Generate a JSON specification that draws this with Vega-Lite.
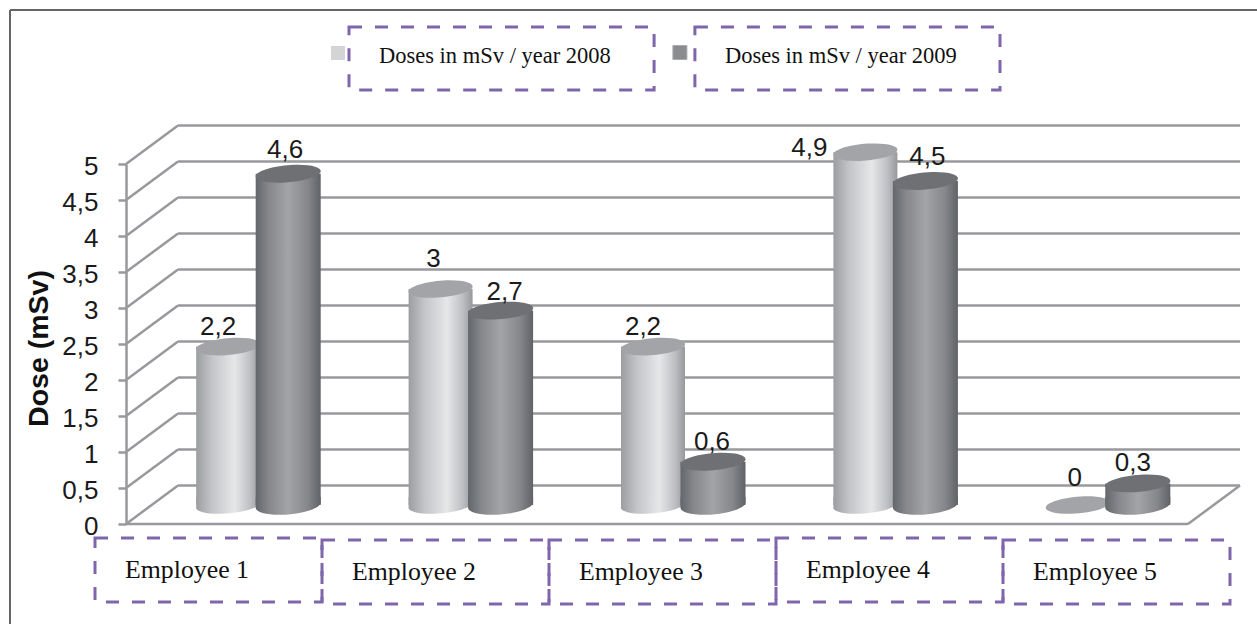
{
"$schema":"https://vega.github.io/schema/vega-lite/v6.json",
"autosize":"none",
"padding":{"left":126,"top":164,"right":69,"bottom":100},
"width":1062,"height":360,
"background":"white",
"config":{"view":{"stroke":null},"font":"Liberation Sans"},
"datasets":{
"doses":[
{"employee":"Employee 1","year":"2008","dose":2.2},
{"employee":"Employee 1","year":"2009","dose":4.6},
{"employee":"Employee 2","year":"2008","dose":3},
{"employee":"Employee 2","year":"2009","dose":2.7},
{"employee":"Employee 3","year":"2008","dose":2.2},
{"employee":"Employee 3","year":"2009","dose":0.6},
{"employee":"Employee 4","year":"2008","dose":4.9},
{"employee":"Employee 4","year":"2009","dose":4.5},
{"employee":"Employee 5","year":"2008","dose":0},
{"employee":"Employee 5","year":"2009","dose":0.3}],
"levels":[{"level":0},{"level":0.5},{"level":1},{"level":1.5},{"level":2},{"level":2.5},{"level":3},{"level":3.5},{"level":4},{"level":4.5},{"level":5}],
"categories":[{"employee":"Employee 1"},{"employee":"Employee 2"},{"employee":"Employee 3"},{"employee":"Employee 4"},{"employee":"Employee 5"}],
"series":[{"series":"Doses in mSv / year 2008"},{"series":"Doses in mSv / year 2009"}]
},
"data":{"name":"doses"},
"layer":[
{"data":{"name":"levels"},
 "mark":{"type":"rule","color":"#98999d","strokeWidth":2.5,"xOffset":52,"x2Offset":52,"yOffset":-38.5},
 "encoding":{
  "x":{"datum":0,"type":"quantitative","scale":{"domain":[0,1],"nice":false},"axis":null},
  "x2":{"datum":1},
  "y":{"field":"level","type":"quantitative","scale":{"domain":[0,5],"nice":false,"zero":false},
   "axis":{"values":[0,0.5,1,1.5,2,2.5,3,3.5,4,4.5,5],"format":"~g","grid":false,"domainColor":"#98999d","domainWidth":2.5,"tickColor":"#98999d","tickWidth":2.5,"tickSize":8,
    "labelFont":"Liberation Sans","labelFontSize":26,"labelColor":"#1a1a1a","labelPadding":20,"labelOffset":2,"labelOverlap":false,"labelFlush":false,"labelBaseline":"middle","labelExpr":"replace(datum.label,'.',',')",
    "title":"Dose (mSv)","titleFont":"Liberation Sans","titleFontSize":28.5,"titleFontWeight":"bold","titleColor":"#111111","titleX":-73,"titleY":184,"titleAnchor":"middle"}}
 }},
{"data":{"name":"levels"},
 "mark":{"type":"rule","color":"#98999d","strokeWidth":2.5,"x2Offset":52,"y2Offset":-38.5},
 "encoding":{
  "x":{"datum":0,"type":"quantitative","scale":{"domain":[0,1],"nice":false},"axis":null},
  "x2":{"datum":0},
  "y":{"field":"level","type":"quantitative","axis":null},
  "y2":{"field":"level"}
 }},
{"data":{"values":[{}]},
 "mark":{"type":"rule","color":"#98999d","strokeWidth":2.5,"x2Offset":52,"y2Offset":-38.5},
 "encoding":{
  "x":{"datum":1,"type":"quantitative","scale":{"domain":[0,1],"nice":false},"axis":null},
  "x2":{"datum":1},
  "y":{"datum":0,"type":"quantitative","axis":null},
  "y2":{"datum":0}
 }},
{"data":{"values":[{}]},
 "mark":{"type":"rule","color":"#98999d","strokeWidth":2.5},
 "encoding":{
  "x":{"datum":0,"type":"quantitative","scale":{"domain":[0,1],"nice":false},"axis":null},
  "x2":{"datum":1},
  "y":{"datum":0,"type":"quantitative","axis":null}
 }},
{"data":{"values":[{}]},
 "mark":{"type":"rule","color":"#666666","strokeWidth":2,"xOffset":-116,"x2Offset":69,"yOffset":-154},
 "encoding":{
  "x":{"datum":0,"type":"quantitative","scale":{"domain":[0,1],"nice":false},"axis":null},
  "x2":{"datum":1},
  "y":{"datum":5,"type":"quantitative","axis":null}
 }},
{"data":{"values":[{}]},
 "mark":{"type":"rule","color":"#666666","strokeWidth":2,"xOffset":-116,"yOffset":-154,"y2Offset":100},
 "encoding":{
  "x":{"datum":0,"type":"quantitative","scale":{"domain":[0,1],"nice":false},"axis":null},
  "y":{"datum":5,"type":"quantitative","axis":null},
  "y2":{"datum":0}
 }},
{"transform":[{"filter":"datum.year=='2008'"}],
 "mark":{"type":"bar","width":64,"yOffset":-19,"y2Offset":-19,"color":{"gradient":"linear","x1":0,"x2":1,"y1":0,"y2":0,"stops":[{"offset":0,"color":"#9b9da0"},{"offset":0.25,"color":"#c4c5c8"},{"offset":0.6,"color":"#e6e7e9"},{"offset":0.85,"color":"#bcbec1"},{"offset":1,"color":"#96989b"}]}},
 "encoding":{
  "x":{"field":"employee","type":"nominal","scale":{"type":"band","range":[26,1088],"paddingInner":0.435,"paddingOuter":0.2175},"axis":null},
  "xOffset":{"field":"year","type":"nominal","scale":{"type":"band","domain":["2008","2009"],"paddingInner":0,"paddingOuter":0}},
  "y":{"field":"dose","type":"quantitative","axis":null}
 }},
{"transform":[{"filter":"datum.year=='2008'&&datum.dose>0"}],
 "mark":{"type":"point","filled":true,"opacity":1,"size":4096,"yOffset":-19,"shape":"M-1,-0.25 L-1,0.06 A1,0.26 -5 0 0 1,-0.06 L1,-0.25 Z","color":{"gradient":"linear","x1":0,"x2":1,"y1":0,"y2":0,"stops":[{"offset":0,"color":"#9b9da0"},{"offset":0.25,"color":"#c4c5c8"},{"offset":0.6,"color":"#e6e7e9"},{"offset":0.85,"color":"#bcbec1"},{"offset":1,"color":"#96989b"}]}},
 "encoding":{
  "x":{"field":"employee","type":"nominal","scale":{"type":"band","domain":["Employee 1","Employee 2","Employee 3","Employee 4","Employee 5"],"range":[26,1088],"paddingInner":0.435,"paddingOuter":0.2175},"axis":null},
  "xOffset":{"field":"year","type":"nominal","scale":{"type":"band","domain":["2008","2009"],"paddingInner":0,"paddingOuter":0}},
  "y":{"datum":0,"type":"quantitative","axis":null}
 }},
{"transform":[{"filter":"datum.year=='2008'"}],
 "mark":{"type":"point","filled":true,"opacity":1,"size":4096,"yOffset":-19,"shape":"M-1,0.06 A1,0.26 -5 0 1 1,-0.06 A1,0.26 -5 0 1 -1,0.06 Z","color":"#a2a4a7"},
 "encoding":{
  "x":{"field":"employee","type":"nominal","scale":{"type":"band","range":[26,1088],"paddingInner":0.435,"paddingOuter":0.2175},"axis":null},
  "xOffset":{"field":"year","type":"nominal","scale":{"type":"band","domain":["2008","2009"],"paddingInner":0,"paddingOuter":0}},
  "y":{"field":"dose","type":"quantitative","axis":null}
 }},
{"transform":[{"filter":"datum.year=='2009'"}],
 "mark":{"type":"bar","width":65,"yOffset":-19,"y2Offset":-19,"color":{"gradient":"linear","x1":0,"x2":1,"y1":0,"y2":0,"stops":[{"offset":0,"color":"#63666a"},{"offset":0.2,"color":"#85878b"},{"offset":0.5,"color":"#a2a4a8"},{"offset":0.8,"color":"#85878b"},{"offset":1,"color":"#5f6266"}]}},
 "encoding":{
  "x":{"field":"employee","type":"nominal","scale":{"type":"band","range":[26,1088],"paddingInner":0.435,"paddingOuter":0.2175},"axis":null},
  "xOffset":{"field":"year","type":"nominal","scale":{"type":"band","domain":["2008","2009"],"paddingInner":0,"paddingOuter":0}},
  "y":{"field":"dose","type":"quantitative","axis":null}
 }},
{"transform":[{"filter":"datum.year=='2009'"}],
 "mark":{"type":"point","filled":true,"opacity":1,"size":4225,"yOffset":-19,"shape":"M-1,-0.25 L-1,0.06 A1,0.29 -5 0 0 1,-0.06 L1,-0.25 Z","color":{"gradient":"linear","x1":0,"x2":1,"y1":0,"y2":0,"stops":[{"offset":0,"color":"#63666a"},{"offset":0.2,"color":"#85878b"},{"offset":0.5,"color":"#a2a4a8"},{"offset":0.8,"color":"#85878b"},{"offset":1,"color":"#5f6266"}]}},
 "encoding":{
  "x":{"field":"employee","type":"nominal","scale":{"type":"band","range":[26,1088],"paddingInner":0.435,"paddingOuter":0.2175},"axis":null},
  "xOffset":{"field":"year","type":"nominal","scale":{"type":"band","domain":["2008","2009"],"paddingInner":0,"paddingOuter":0}},
  "y":{"datum":0,"type":"quantitative","axis":null}
 }},
{"transform":[{"filter":"datum.year=='2009'"}],
 "mark":{"type":"point","filled":true,"opacity":1,"size":4225,"yOffset":-19,"shape":"M-1,0.06 A1,0.26 -5 0 1 1,-0.06 A1,0.26 -5 0 1 -1,0.06 Z","color":"#6e7074"},
 "encoding":{
  "x":{"field":"employee","type":"nominal","scale":{"type":"band","range":[26,1088],"paddingInner":0.435,"paddingOuter":0.2175},"axis":null},
  "xOffset":{"field":"year","type":"nominal","scale":{"type":"band","domain":["2008","2009"],"paddingInner":0,"paddingOuter":0}},
  "y":{"field":"dose","type":"quantitative","axis":null}
 }},
{"transform":[{"calculate":"replace(toString(datum.dose),'.',',')","as":"label"}],
 "mark":{"type":"text","font":"Liberation Sans","fontSize":26,"color":"#1a1a1a","baseline":"middle","align":"center","yOffset":-19,
  "dx":{"expr":"{'2,2':-10,'4,6':-3,'3':-7,'2,7':4,'0,6':-1,'4,9':-56,'4,5':2,'0':-3,'0,3':-5}[datum.label]"},
  "dy":{"expr":"{'2,2':-20,'4,6':-24,'3':-30,'2,7':-19,'0,6':-20,'4,9':-4,'4,5':-24,'0':-27,'0,3':-20}[datum.label]"}},
 "encoding":{
  "x":{"field":"employee","type":"nominal","scale":{"type":"band","range":[26,1088],"paddingInner":0.435,"paddingOuter":0.2175},"axis":null},
  "xOffset":{"field":"year","type":"nominal","scale":{"type":"band","domain":["2008","2009"],"paddingInner":0,"paddingOuter":0}},
  "y":{"field":"dose","type":"quantitative","axis":null},
  "text":{"field":"label"}
 }},
{"data":{"name":"categories"},"transform":[{"filter":"datum.employee=='Employee 1'||datum.employee=='Employee 4'"}],
 "mark":{"type":"rect","fill":null,"stroke":"#7f66ac","strokeWidth":3,"strokeDash":[13,13],"yOffset":14,"y2Offset":78},
 "encoding":{
  "x":{"field":"employee","type":"nominal","scale":{"type":"band","domain":["Employee 1","Employee 2","Employee 3","Employee 4","Employee 5"],"range":[-31,1104],"paddingInner":0,"paddingOuter":0},"axis":null},
  "y":{"datum":0,"type":"quantitative","axis":null},
  "y2":{"datum":0}
 }},
{"data":{"name":"categories"},"transform":[{"filter":"datum.employee!='Employee 1'&&datum.employee!='Employee 4'"}],
 "mark":{"type":"rect","fill":null,"stroke":"#7f66ac","strokeWidth":3,"strokeDash":[13,13],"yOffset":16,"y2Offset":80},
 "encoding":{
  "x":{"field":"employee","type":"nominal","scale":{"type":"band","domain":["Employee 1","Employee 2","Employee 3","Employee 4","Employee 5"],"range":[-31,1104],"paddingInner":0,"paddingOuter":0},"axis":null},
  "y":{"datum":0,"type":"quantitative","axis":null},
  "y2":{"datum":0}
 }},
{"data":{"name":"categories"},
 "mark":{"type":"text","font":"Liberation Serif","fontSize":25.8,"color":"#111111","align":"left","baseline":"middle","xOffset":30,
  "yOffset":{"expr":"datum.employee=='Employee 1'||datum.employee=='Employee 4'?46:48"}},
 "encoding":{
  "x":{"field":"employee","type":"nominal","bandPosition":0,"scale":{"type":"band","domain":["Employee 1","Employee 2","Employee 3","Employee 4","Employee 5"],"range":[-31,1104],"paddingInner":0,"paddingOuter":0},"axis":null},
  "y":{"datum":0,"type":"quantitative","axis":null},
  "text":{"field":"employee"}
 }},
{"data":{"name":"series"},
 "mark":{"type":"rect","fill":"white","stroke":"#7f66ac","strokeWidth":3,"strokeDash":[13,13],"yOffset":-137,"y2Offset":-74},
 "encoding":{
  "x":{"field":"series","type":"nominal","scale":{"type":"band","range":[223,874],"paddingInner":0.118,"paddingOuter":0},"axis":null},
  "y":{"datum":5,"type":"quantitative","axis":null},
  "y2":{"datum":5}
 }},
{"data":{"name":"series"},
 "mark":{"type":"text","font":"Liberation Serif","fontSize":22.5,"color":"#111111","align":"left","baseline":"middle","xOffset":30,"yOffset":-108},
 "encoding":{
  "x":{"field":"series","type":"nominal","bandPosition":0,"scale":{"type":"band","range":[223,874],"paddingInner":0.118,"paddingOuter":0},"axis":null},
  "y":{"datum":5,"type":"quantitative","axis":null},
  "text":{"field":"series"}
 }},
{"data":{"name":"series"},"transform":[{"filter":"indexof(datum.series,'2008')>=0"}],
 "mark":{"type":"point","shape":"square","filled":true,"opacity":1,"size":196,"color":"#d3d4d6","xOffset":-11,"yOffset":-111},
 "encoding":{
  "x":{"field":"series","type":"nominal","bandPosition":0,"scale":{"type":"band","domain":["Doses in mSv / year 2008","Doses in mSv / year 2009"],"range":[223,874],"paddingInner":0.118,"paddingOuter":0},"axis":null},
  "y":{"datum":5,"type":"quantitative","axis":null}
 }},
{"data":{"name":"series"},"transform":[{"filter":"indexof(datum.series,'2009')>=0"}],
 "mark":{"type":"point","shape":"square","filled":true,"opacity":1,"size":196,"color":"#8b8c90","stroke":"#a9aaad","strokeWidth":1,"xOffset":-15,"yOffset":-111.5},
 "encoding":{
  "x":{"field":"series","type":"nominal","bandPosition":0,"scale":{"type":"band","domain":["Doses in mSv / year 2008","Doses in mSv / year 2009"],"range":[223,874],"paddingInner":0.118,"paddingOuter":0},"axis":null},
  "y":{"datum":5,"type":"quantitative","axis":null}
 }}
],
"resolve":{"scale":{"x":"independent","xOffset":"independent"},"axis":{"x":"independent","y":"independent"}}
}
